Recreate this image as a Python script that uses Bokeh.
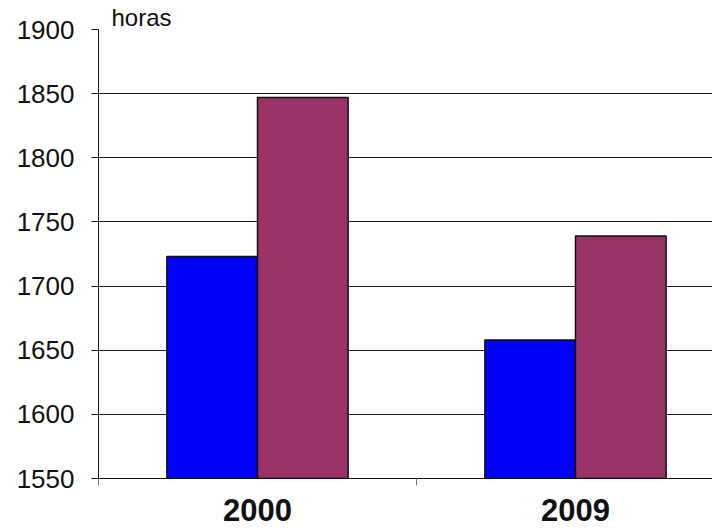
from bokeh.plotting import figure
from bokeh.models import Range1d, FixedTicker, ColumnDataSource
from bokeh.embed import file_html
from bokeh.resources import INLINE

years = ["2000", "2009"]
serie_a = [1723, 1658]   # blue
serie_b = [1847, 1739]   # maroon
y_ticks = [1550, 1600, 1650, 1700, 1750, 1800, 1850, 1900]
unit_label = "horas"

bar_w = 0.285
centers = [i + 0.5 for i in range(len(years))]
src = ColumnDataSource(dict(
    xa=[c - bar_w / 2 for c in centers],
    xb=[c + bar_w / 2 for c in centers],
    a=serie_a, b=serie_b,
))

p = figure(width=712, height=528, output_backend="svg", toolbar_location=None,
           x_range=Range1d(0, 614 / 318), y_range=Range1d(1550, 1900),
           min_border_left=98, min_border_right=0, min_border_top=29, min_border_bottom=50,
           title=unit_label)
p.outline_line_color = None
p.background_fill_color = "white"
p.border_fill_color = "white"

p.title.text_font = "Liberation Sans"
p.title.text_font_size = "24px"
p.title.text_font_style = "normal"
p.title.text_color = "#111111"
p.title.align = "left"
p.title.offset = 13
p.title.standoff = -2

p.vbar(x="xa", top="a", bottom=1550, width=bar_w, source=src,
       fill_color="#0000FF", line_color="#111111", line_width=1.5)
p.vbar(x="xb", top="b", bottom=1550, width=bar_w, source=src,
       fill_color="#993366", line_color="#111111", line_width=1.5)

# y axis
p.yaxis.ticker = FixedTicker(ticks=y_ticks)
p.yaxis.minor_tick_line_color = None
p.yaxis.major_tick_in = 0
p.yaxis.major_tick_out = 7
p.yaxis.axis_line_color = "#111111"
p.yaxis.major_tick_line_color = "#111111"
p.yaxis.major_label_text_font = "Liberation Sans"
p.yaxis.major_label_text_font_size = "26px"
p.yaxis.major_label_text_color = "#111111"
p.yaxis.major_label_standoff = 17

# x axis
p.xaxis.ticker = FixedTicker(ticks=centers, minor_ticks=[0, 1])
p.xaxis.major_label_overrides = {c: y for c, y in zip(centers, years)}
p.xaxis.major_tick_line_color = None
p.xaxis.major_tick_in = 0
p.xaxis.major_tick_out = 0
p.xaxis.minor_tick_in = 0
p.xaxis.minor_tick_out = 7
p.xaxis.minor_tick_line_color = "#777777"
p.xaxis.axis_line_color = "#111111"
p.xaxis.major_label_text_font = "Liberation Sans"
p.xaxis.major_label_text_font_style = "bold"
p.xaxis.major_label_text_font_size = "31px"
p.xaxis.major_label_text_color = "#111111"
p.xaxis.major_label_standoff = 13

p.xgrid.grid_line_color = None
p.ygrid.ticker = FixedTicker(ticks=y_ticks[1:-1])
p.ygrid.grid_line_color = "#1a1a1a"
p.ygrid.grid_line_width = 1.2

open("out.html", "w").write(file_html(p, INLINE))
